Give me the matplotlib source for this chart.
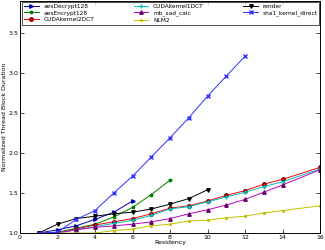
import matplotlib
matplotlib.use("Agg")
import matplotlib.pyplot as plt

x_full = [1, 2, 3, 4, 5, 6, 7, 8, 9, 10, 11, 12, 13, 14, 16]

aesDecrypt_x = [1, 2, 3, 4, 5, 6]
aesDecrypt_y = [1.00, 1.04, 1.09, 1.17, 1.26, 1.40]

aesEncrypt_x = [1, 2, 3, 4, 5, 6, 7, 8]
aesEncrypt_y = [1.00, 1.01, 1.06, 1.11, 1.20, 1.32, 1.48, 1.66]

cuda2_y = [1.00, 1.00, 1.05, 1.10, 1.14, 1.18, 1.24, 1.31, 1.34, 1.40, 1.47, 1.53, 1.61, 1.67, 1.82]
cuda1_y = [1.00, 1.00, 1.04, 1.08, 1.12, 1.16, 1.22, 1.30, 1.33, 1.39, 1.45, 1.51, 1.58, 1.64, 1.80]
mbsad_y = [1.00, 1.00, 1.04, 1.07, 1.09, 1.11, 1.14, 1.18, 1.24, 1.29, 1.35, 1.42, 1.51, 1.60, 1.79]
nlm2_y = [1.00, 1.00, 1.00, 1.00, 1.03, 1.05, 1.09, 1.11, 1.15, 1.16, 1.19, 1.21, 1.25, 1.28, 1.34]

render_x = [1, 2, 3, 4, 5, 6, 7, 8, 9, 10]
render_y = [1.00, 1.11, 1.18, 1.21, 1.24, 1.26, 1.30, 1.36, 1.43, 1.54]

sha1_x = [1, 2, 3, 4, 5, 6, 7, 8, 9, 10, 11, 12]
sha1_y = [1.00, 1.01, 1.17, 1.28, 1.50, 1.71, 1.95, 2.19, 2.44, 2.71, 2.96, 3.21]

x_ticks = [0, 2, 4, 6, 8, 10, 12, 14, 16]
y_ticks = [1.0, 1.5, 2.0, 2.5, 3.0, 3.5]

fig = plt.figure(figsize=(3.25, 2.5), dpi=100)
ax = fig.add_axes([20 / 325, 17 / 250, 300 / 325, 232 / 250])

lw = 0.7
ms = 2.5
ax.plot(aesDecrypt_x, aesDecrypt_y, color="#0000b0", marker=">", lw=lw, ms=ms, label="aesDecrypt128")
ax.plot(aesEncrypt_x, aesEncrypt_y, color="#008000", marker="*", lw=lw, ms=ms, label="aesEncrypt128")
ax.plot(x_full, cuda2_y, color="#ff0000", marker="o", lw=lw, ms=ms, mec="#800000", label="CUDAkernel2DCT")
ax.plot(x_full, cuda1_y, color="#00c0c0", marker="+", lw=lw, ms=ms, label="CUDAkernel1DCT")
ax.plot(x_full, mbsad_y, color="#c000c0", marker="^", lw=lw, ms=ms, mec="#600060", label="mb_sad_calc")
ax.plot(x_full, nlm2_y, color="#c0c000", marker=".", lw=lw, ms=ms, label="NLM2")
ax.plot(render_x, render_y, color="#000000", marker="v", lw=lw, ms=ms, label="render")
ax.plot(sha1_x, sha1_y, color="#3030ff", marker="x", lw=lw, ms=ms, label="sha1_kernel_direct")

ax.set_xlim(0, 16)
ax.set_ylim(1.0, 3.9)
ax.set_xticks(x_ticks)
ax.set_yticks(y_ticks)
ax.set_xticklabels([str(v) for v in x_ticks])
ax.set_yticklabels(["%.1f" % v for v in y_ticks])
ax.tick_params(direction="in", top=True, right=True, labelsize=4.5, length=3, width=0.5, pad=1.2)
for s in ax.spines.values():
    s.set_linewidth(0.7)

ax.set_xlabel("Residency", fontsize=4.5, labelpad=0.5)
ax.set_ylabel("Normalized Thread Block Duration", fontsize=4.5, labelpad=1)

leg = ax.legend(loc="upper left", ncol=3, fontsize=4.2, frameon=True, fancybox=False,
                edgecolor="black", borderpad=0.3, labelspacing=0.25, handlelength=2.5,
                mode="expand", bbox_to_anchor=(0.008, 0.995, 0.99, 0), borderaxespad=0.0)
leg.get_frame().set_linewidth(0.6)

fig.savefig("out.png", dpi=100)
